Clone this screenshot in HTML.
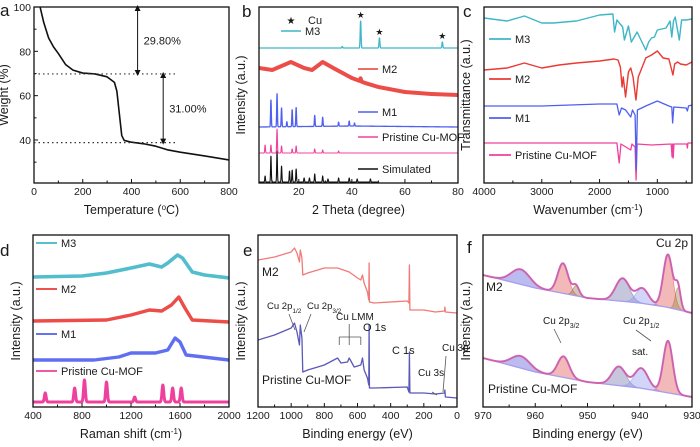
<!DOCTYPE html>
<html><head><meta charset="utf-8">
<style>
html,body{margin:0;padding:0;background:#fff;}
svg{display:block;font-family:"Liberation Sans",sans-serif;}
</style></head>
<body>
<svg id="chart" width="700" height="447" viewBox="0 0 700 447"></svg>
<script>
// ---------- DATA ----------
// (a) TGA: temperature (°C) / weight (%)
const tgaT = [25,40,60,80,100,130,160,200,250,300,330,340,350,360,370,400,450,500,550,600,700,800];
const tgaW = [100,93,86,82,79,74,71.5,70.2,69.8,68.5,66,62,52,42,39.8,39,38.3,37.2,35.5,34.5,32.8,31];
const tgaLevels = [69.8,38.8];
const tgaLossLabels = ["29.80%","31.00%"];
// (b) XRD: baseline points [2θ, intensity] and peaks [2θ, height]
const xrdM3Base = [[5,135],[80,135]];
const xrdM3Peaks = [[36.4,1.5],[43.3,27],[50.4,10],[74.1,6]];
const xrdM2Base = [[5,115],[10,113],[17,121],[22,115],[25,113],[29,121],[33,115],[40,105],[45,100],[50,96],[60,91],[70,89],[80,88]];
const xrdM2Peaks = [[43.3,3]];
const xrdM1Base = [[5,56],[40,57],[80,56]];
const xrdM1Peaks = [[9.5,27],[11.8,33],[13.5,19],[15.5,5],[17.5,17],[19,19],[26,11],[29,9],[35,4],[39,5],[41,3]];
const xrdPrBase = [[5,30],[80,30]];
const xrdPrPeaks = [[7.3,8],[9.5,8],[11.8,24],[13.5,7],[17.5,4],[19,7],[26,4],[29,3],[35,2]];
const xrdSimBase = [[5,1],[50,1]];
const xrdSimPeaks = [[7.3,6],[9.5,26],[11.8,31],[13.5,16],[16.5,11],[17.5,12],[19,13],[22,4],[24,4],[26,8],[29,6],[31,3],[35,4],[39,4],[42,3],[47,3]];
// (c) FTIR: wavenumber / transmittance (a.u.)
const irM3 = [[4000,165],[3600,162],[3300,167],[3000,160],[2800,160],[2400,162],[2200,165],[2000,168],[1770,169],[1740,151],[1700,163],[1600,156],[1570,143],[1500,157],[1450,141],[1350,151],[1200,133],[1150,141],[1100,145],[1050,146],[1000,153],[850,155],[780,162],[750,146],[720,162],[690,166],[620,143],[580,163],[500,163],[400,164]];
const irM2 = [[4000,113],[3600,115],[3300,120],[3000,115],[2700,118],[2400,120],[2000,122],[1750,124],[1680,123],[1640,116],[1610,96],[1590,106],[1550,86],[1500,111],[1460,115],[1420,106],[1370,83],[1330,106],[1200,125],[1100,128],[1000,132],[900,125],[800,124],[730,108],[700,119],[650,121],[600,119],[500,118],[400,121]];
const irM1 = [[4000,77],[3000,77],[2000,79],[1700,79],[1660,68],[1620,75],[1550,73],[1460,66],[1430,73],[1385,68],[1365,13],[1345,73],[1200,77],[1000,82],[800,77],[750,76],[735,60],[715,76],[500,75],[480,72],[460,77],[400,78]];
const irPr = [[4000,40],[1700,40],[1660,20],[1630,39],[1460,33],[1440,39],[1385,36],[1368,3],[1350,39],[1100,38],[760,39],[745,26],[735,39],[725,25],[712,39],[490,39],[480,35],[470,40],[400,40]];
// (d) Raman: shift / intensity
const raM3 = [[400,130],[800,131],[1000,134],[1200,139],[1350,143],[1450,140],[1500,144],[1580,152],[1620,149],[1700,135],[1800,132],[2000,129]];
const raM2 = [[400,86],[1000,87],[1200,92],[1350,97],[1450,96],[1530,102],[1590,110],[1640,99],[1700,87],[2000,85]];
const raM1 = [[400,47],[900,47],[1100,50],[1200,54],[1400,54],[1500,57],[1560,69],[1600,65],[1650,52],[2000,47]];
const raPrBase = [[400,5],[2000,5]];
const raPrPeaks = [[500,9],[740,14],[820,22],[1000,20],[1230,5],[1460,17],[1540,14],[1610,14]];
// (e) XPS survey: binding energy / intensity
const xpsM2 = [[1200,147],[1100,150],[1000,155],[980,159],[965,154],[950,145],[945,157],[935,149],[930,132],[900,134],[800,139],[720,139],[650,135],[600,129],[580,127],[570,132],[560,124],[540,115],[532,107],[530,144],[528,105],[500,104],[300,106],[290,104],[287,142],[284,97],[200,97],[130,95],[75,96],[73,100],[70,95],[0,94]];
const xpsPr = [[1200,67],[1100,72],[1000,79],[980,84],[965,75],[950,62],[945,82],[935,69],[930,35],[900,37],[800,42],[720,49],[700,44],[660,45],[650,49],[620,40],[580,42],[570,49],[560,37],[540,29],[532,22],[530,82],[528,19],[500,19],[300,20],[290,15],[287,55],[284,14],[200,14],[130,13],[75,14],[73,17],[70,10],[0,9]];
// (f) Cu 2p: baseline and fitted peaks [center eV, height, sigma eV, colour]
const cuM2Base = [[930,94],[935,100],[940,104],[950,109],[960,119],[970,132]];
const cuM2Peaks = [[962.8,15,1.8,"#5555d8"],[954.7,30,1.0,"#e05050"],[952.2,10,0.6,"#8a7040"],[943.3,23,1.3,"#7070a8"],[939.5,15,1.2,"#8c96ee"],[934.6,53,0.9,"#e05050"],[932.7,22,0.5,"#9a8040"]];
const cuPrBase = [[930,10],[940,19],[950,25],[960,35],[970,49]];
const cuPrPeaks = [[962.8,12,1.8,"#5555d8"],[954.6,21,1.1,"#e05050"],[944,19,1.3,"#7070a8"],[939.7,20,1.3,"#8c96ee"],[934.6,52,0.9,"#e05050"]];

// ---------- HELPERS ----------
const NS="http://www.w3.org/2000/svg";
const svg=document.getElementById('chart');
function mk(tag,attrs,parent){const e=document.createElementNS(NS,tag);for(const k in attrs)e.setAttribute(k,attrs[k]);(parent||svg).appendChild(e);return e;}
function lin(d0,d1,r0,r1){return v=>r0+(v-d0)/(d1-d0)*(r1-r0);}
function txt(x,y,s,size,anchor,parent,extra){const e=mk('text',Object.assign({x:x,y:y,'font-size':size||10.5,'text-anchor':anchor||'start',fill:'#1a1a1a'},extra||{}),parent);e.textContent=s;return e;}
function interp(pts,x){const p=pts.slice().sort((a,b)=>a[0]-b[0]);if(x<=p[0][0])return p[0][1];for(let i=1;i<p.length;i++){if(x<=p[i][0]){const t=(x-p[i-1][0])/(p[i][0]-p[i-1][0]);return p[i-1][1]+t*(p[i][1]-p[i-1][1]);}}return p[p.length-1][1];}
function pathFrom(pts,X,Y){return pts.map((p,i)=>(i?'L':'M')+X(p[0]).toFixed(2)+','+Y(p[1]).toFixed(2)).join('');}
function peakSeries(base,peaks,x0,x1,step,sig){const out=[];const lo=Math.min(x0,x1),hi=Math.max(x0,x1);for(let x=lo;x<=hi+1e-9;x+=step){let v=interp(base,x);peaks.forEach(pk=>{const s=pk[2]&&typeof pk[2]==='number'?pk[2]:sig;v+=pk[1]*Math.exp(-Math.pow(x-pk[0],2)/(2*s*s));});out.push([x,v]);}return out;}

let clipN=0;
function panel(name,box,X,Y,xt,xTitle,yTitle,letter,ytX,minorX){
  const g=mk('g',{});
  
  
  const id='clip'+(clipN++);
  const cp=mk('clipPath',{id:id},g);mk('rect',{x:box[0],y:box[1],width:box[2]-box[0],height:box[3]-box[1]},cp);
  const plot=mk('g',{'clip-path':'url(#'+id+')'},g);
  
  
  const frame=mk('rect',{x:box[0],y:box[1],width:box[2]-box[0],height:box[3]-box[1],fill:'none',stroke:'#111','stroke-width':1.3},g);
  
  
  const xa=mk('g',{},g);
  
  
  xt.forEach(v=>{const x=X(v);mk('line',{x1:x,x2:x,y1:box[3],y2:box[3]-4,stroke:'#111','stroke-width':1},xa);
    const t=txt(x,box[3]+12,String(v),10.5,'middle',xa);
    
    });
  (minorX||[]).forEach(v=>{const x=X(v);mk('line',{x1:x,x2:x,y1:box[3],y2:box[3]-2.5,stroke:'#111','stroke-width':1},xa);});
  const xtEl=txt((box[0]+box[2])/2,box[3]+31,'',12.5,'middle',g);
  xtEl.innerHTML=xTitle;
  
  
  const cy=(box[1]+box[3])/2;
  const ytEl=txt(ytX,cy,yTitle,12.5,'middle',g,{transform:'rotate(-90 '+ytX+' '+cy+')'});
  
  
  const L=txt(letter[1],letter[2],letter[0],17,'start',g);
  
  
  return plot;
}
function line(parent,pts,X,Y,color,w,name,op){const p=mk('path',{d:pathFrom(pts,X,Y),fill:'none',stroke:color,'stroke-width':w,'stroke-linejoin':'round','stroke-opacity':op||1},parent);
  
  return p;}
function legend(x,y,len,color,label,w,name){const g=mk('g',{});
  
  
  mk('line',{x1:x,x2:x+len,y1:y,y2:y,stroke:color,'stroke-width':w||1.6},g);txt(x+len+4,y+4,label,11,'start',g);return g;}

const C={teal:'#3fb6c6',red:'#ea3a34',blue:'#4f5ff0',pink:'#f0409e'};

// ---------- (a) TGA ----------
(function(){
const box=[34,7,229,183];const X=lin(0,800,34,229),Y=lin(40,100,140,7);
const pl=panel('panel-a-tga',box,X,Y,[0,200,400,600,800],'Temperature (<tspan baseline-shift="super" font-size="8">o</tspan>C)','Weight (%)',['a',0,16],8,[100,300,500,700]);
[40,60,80,100].forEach(v=>{const t=txt(31,Y(v)+4,String(v),10.5,'end');
  
  
  mk('line',{x1:34,x2:38,y1:Y(v),y2:Y(v),stroke:'#111'});});
[30,50,70,90].forEach(v=>mk('line',{x1:34,x2:36.5,y1:Y(v),y2:Y(v),stroke:'#111'}));
line(pl,tgaT.map((t,i)=>[t,tgaW[i]]),X,Y,'#111',1.6,'tga-curve');
tgaLevels.forEach(l=>{const d=mk('line',{x1:X(0),x2:X(590),y1:Y(l),y2:Y(l),stroke:'#333','stroke-width':1.2,'stroke-dasharray':'1.5,3'});
  
  });
const defs=mk('defs',{});const mkr=mk('marker',{id:'ah',markerWidth:6,markerHeight:6,refX:3,refY:3,orient:'auto-start-reverse'},defs);mk('path',{d:'M0,0L6,3L0,6Z',fill:'#111'},mkr);
const arrows=[[425,100,tgaLevels[0]],[530,tgaLevels[0],tgaLevels[1]]];
arrows.forEach((a,i)=>{const l=mk('line',{x1:X(a[0]),x2:X(a[0]),y1:Y(a[1])+1,y2:Y(a[2])-1,stroke:'#111','stroke-width':1,'marker-start':'url(#ah)','marker-end':'url(#ah)'});
  
  
  const t=txt(X(a[0])+6,(Y(a[1])+Y(a[2]))/2+4,tgaLossLabels[i],11);
  
  });
})();

// ---------- (b) XRD ----------
(function(){
const box=[259,7,458,183];const X=lin(5,80,259,458),Y=lin(0,176,183,7);
const pl=panel('panel-b-xrd',box,X,Y,[20,40,60,80],'2 Theta (degree)','Intensity (a.u.)',['b',242,17],245,[10,30,50,70]);
line(pl,peakSeries(xrdSimBase,xrdSimPeaks,5,50,0.04,0.13),X,Y,'#111',1.1,'xrd-simulated');
line(pl,peakSeries(xrdPrBase,xrdPrPeaks,5,80,0.04,0.13),X,Y,C.pink,1.1,'xrd-pristine');
line(pl,peakSeries(xrdM1Base,xrdM1Peaks,5,80,0.04,0.13),X,Y,C.blue,1.3,'xrd-m1');
line(pl,peakSeries(xrdM2Base,xrdM2Peaks,5,80,0.04,0.13),X,Y,C.red,4,'xrd-m2',0.9);
line(pl,peakSeries(xrdM3Base,xrdM3Peaks,5,80,0.04,0.16),X,Y,C.teal,1.3,'xrd-m3');
xrdM3Peaks.slice(1).forEach(p=>{const s=txt(X(p[0]),Y(xrdM3Base[0][1]+p[1])-3,'★',9,'middle');
  
  });
const st=txt(291,24,'★',10,'middle');


const ct=txt(308,24,'Cu',11);


legend(281,31,20,C.teal,'M3',1.6,'legend-m3');
legend(358,69,20,C.red,'M2',1.6,'legend-m2');
legend(358,112,20,C.blue,'M1',1.6,'legend-m1');
legend(358,137,20,C.pink,'Pristine Cu-MOF',1.6,'legend-pristine');
legend(358,169,20,'#111','Simulated',1.6,'legend-simulated');
})();

// ---------- (c) FTIR ----------
(function(){
const box=[484,7,692,183];const X=lin(4000,400,484,692),Y=lin(0,176,183,7);
const pl=panel('panel-c-ftir',box,X,Y,[4000,3000,2000,1000],'Wavenumber (cm<tspan baseline-shift="super" font-size="8">-1</tspan>)','Transmittance (a.u.)',['c',463,17],470,[3500,2500,1500,500]);
line(pl,irPr,X,Y,C.pink,1.3,'ftir-pristine');
line(pl,irM1,X,Y,C.blue,1.3,'ftir-m1');
line(pl,irM2,X,Y,C.red,1.4,'ftir-m2');
line(pl,irM3,X,Y,C.teal,1.4,'ftir-m3');
legend(489,39,22,C.teal,'M3',1.8,'legend-m3');
legend(489,79,22,C.red,'M2',1.8,'legend-m2');
legend(489,118,22,C.blue,'M1',1.8,'legend-m1');
legend(489,155,22,C.pink,'Pristine Cu-MOF',1.8,'legend-pristine');
})();

// ---------- (d) Raman ----------
(function(){
const box=[33,235,229,407];const X=lin(400,2000,33,229),Y=lin(0,172,407,235);
const pl=panel('panel-d-raman',box,X,Y,[400,800,1200,1600,2000],'Raman shift (cm<tspan baseline-shift="super" font-size="8">-1</tspan>)','Intensity (a.u.)',['d',0,256],20,[600,1000,1400,1800]);
line(pl,peakSeries(raPrBase,raPrPeaks,400,2000,2,7),X,Y,C.pink,3,'raman-pristine');
line(pl,raM1,X,Y,C.blue,3.4,'raman-m1',0.9);
line(pl,raM2,X,Y,C.red,3.4,'raman-m2',0.9);
line(pl,raM3,X,Y,C.teal,3.6,'raman-m3',0.9);
legend(36,243,21,C.teal,'M3',1.8,'legend-m3');
legend(36,289,21,C.red,'M2',1.8,'legend-m2');
legend(36,334,21,C.blue,'M1',1.8,'legend-m1');
legend(36,371,21,C.pink,'Pristine Cu-MOF',1.8,'legend-pristine');
})();

// ---------- (e) XPS survey ----------
(function(){
const box=[258,235,457,407];const X=lin(1200,0,258,457),Y=lin(0,172,407,235);
const pl=panel('panel-e-xps-survey',box,X,Y,[1200,1000,800,600,400,200,0],'Binding energy (eV)','Intensity (a.u.)',['e',243,256],245,[1100,900,700,500,300,100]);
line(pl,xpsM2,X,Y,'#f07a78',1.3,'xps-m2');
line(pl,xpsPr,X,Y,'#5a58b8',1.3,'xps-pristine');
const labs=[[262,276,'M2',12],[262,384,'Pristine Cu-MOF',12],[363,331,'O 1s',11],[392,354,'C 1s',11],[418,376,'Cu 3s',10],[442,351,'Cu 3p',10],[336,320,'Cu LMM',10]];
labs.forEach(l=>{const t=txt(l[0],l[1],l[2],l[3]);
  
  });
const t1=txt(267,309,'',9.5);t1.innerHTML='Cu 2p<tspan font-size="6.5" baseline-shift="sub">1/2</tspan>';


const t2=txt(307,309,'',9.5);t2.innerHTML='Cu 2p<tspan font-size="6.5" baseline-shift="sub">3/2</tspan>';


const ann=[[289,314,295,330],[311,314,304,332],[X(710),337,X(580),337],[X(710),337,X(710),345],[X(650),324,X(650),345],[X(580),337,X(580),345],[432,392,437,395],[446,356,443,392]];
ann.forEach(a=>{const l=mk('line',{x1:a[0],y1:a[1],x2:a[2],y2:a[3],stroke:'#555','stroke-width':0.8});
  
  });
})();

// ---------- (f) Cu 2p ----------
(function(){
const box=[483,235,692,407];const X=lin(970,930,483,692),Y=lin(0,172,407,235);
const pl=panel('panel-f-cu2p',box,X,Y,[970,960,950,940,930],'Binding energy (eV)','Intensity (a.u.)',['f',467,253],470,[965,955,945,935]);
function fit(base,peaks,nm){
  peaks.forEach(pk=>{const pts=[];for(let x=pk[0]-4*pk[2];x<=pk[0]+4*pk[2];x+=0.05){const b=interp(base,x);pts.push([x,b+pk[1]*Math.exp(-Math.pow(x-pk[0],2)/(2*pk[2]*pk[2]))]);}
    const back=pts.slice().reverse().map(p=>[p[0],interp(base,p[0])]);
    const a=mk('path',{d:pathFrom(pts.concat(back),X,Y)+'Z',fill:pk[3],'fill-opacity':0.4,stroke:pk[3],'stroke-opacity':0.6,'stroke-width':0.7},pl);
    
    });
  line(pl,base,X,Y,'#a69ef0',1.3,nm+'-background');
  const env=peakSeries(base,peaks,930,970,0.05,1);
  line(pl,env,X,Y,'#f55aa8',2,nm+'-measured');
  line(pl,env,X,Y,'#7080c8',0.7,nm+'-envelope',0.8);
}
fit(cuM2Base,cuM2Peaks,'cu2p-m2');
fit(cuPrBase,cuPrPeaks,'cu2p-pristine');
const labs=[[688,247,'Cu 2p',12,'end'],[486,291,'M2',12,'start'],[488,393,'Pristine Cu-MOF',12,'start'],[632,355,'sat.',10,'start']];
labs.forEach(l=>{const t=txt(l[0],l[1],l[2],l[3],l[4]);
  
  });
const t1=txt(543,324,'',10);t1.innerHTML='Cu 2p<tspan font-size="7" baseline-shift="sub">3/2</tspan>';


const t2=txt(623,324,'',10);t2.innerHTML='Cu 2p<tspan font-size="7" baseline-shift="sub">1/2</tspan>';


[[554,329,561,343],[636,330,651,341]].forEach(a=>{const l=mk('line',{x1:a[0],y1:a[1],x2:a[2],y2:a[3],stroke:'#555','stroke-width':0.8});
  
  });
})();
</script>
</body></html>
